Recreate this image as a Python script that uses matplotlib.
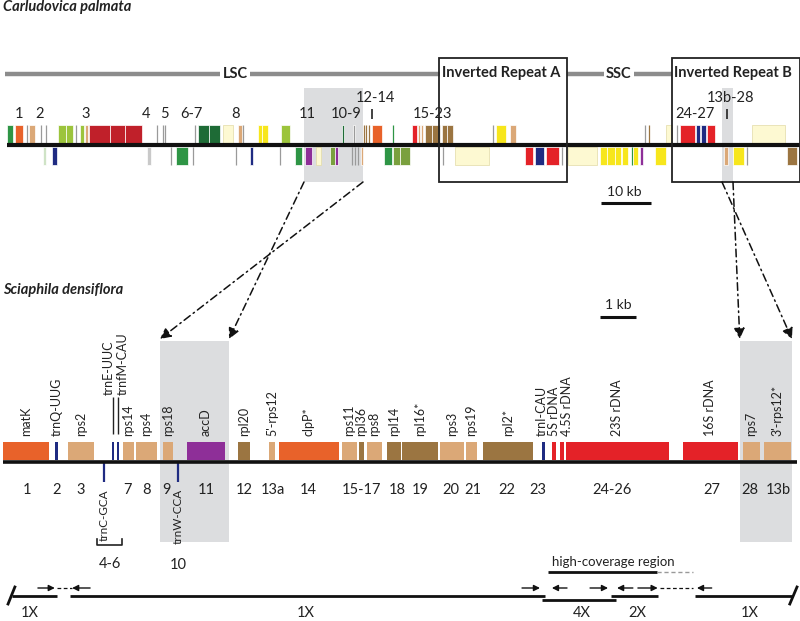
import matplotlib.pyplot as plt
from matplotlib.patches import Rectangle, ConnectionPatch

plt.rcParams['font.family'] = ['Lato', 'DejaVu Sans']

# colours used in the gene maps
G = '#2e9545'; DG = '#1e6b36'; LG = '#9cc43c'; OG = '#7aa03e'; PG = '#cfe3c6'
OR = '#e8622a'; TN = '#dba877'; BR = '#9b7541'; RD = '#c0202a'; RR = '#e42228'
NV = '#1f2b82'; YL = '#f7e61c'; PY = '#fdf9d2'; PU = '#8e2f98'; GR = '#9a9a9a'; LGR = '#c9c9c9'
SHADE = '#dcdddf'

# ---- Carludovica palmata plastome (positions in kb) ----
cp_length = 158.6
cp_above = [
    (0.0, 1.2, G), (1.6, 3.2, OR), (4.0, 4.0, GR), (4.4, 5.6, TN), (6.8, 6.8, GR), (7.8, 7.8, GR),
    (10.2, 11.8, LG), (11.8, 13.2, LG), (13.8, 13.8, GR), (14.6, 15.4, LG), (15.6, 16.2, TN),
    (16.4, 20.6, RD), (20.6, 23.6, RD), (23.6, 27.0, RD), (30.0, 30.0, GR), (31.2, 31.2, GR),
    (31.6, 31.6, GR), (37.6, 37.6, GR), (38.2, 40.4, DG), (40.4, 42.6, DG), (43.2, 45.2, PY),
    (46.2, 47.0, TN), (47.2, 47.2, GR), (50.2, 51.0, YL), (51.0, 52.2, YL), (54.8, 56.6, LG),
    (67.0, 67.4, DG), (69.2, 69.6, GR), (71.4, 71.4, BR), (71.8, 71.8, BR), (72.3, 72.3, BR),
    (73.0, 75.0, OR), (77.2, 77.2, G), (81.0, 82.0, RR), (82.2, 82.6, TN), (82.7, 83.2, TN),
    (83.6, 85.0, BR), (85.0, 86.6, BR), (87.0, 88.0, BR), (88.0, 89.2, BR), (97.2, 97.2, GR),
    (97.8, 99.8, YL), (100.6, 101.8, TN), (127.6, 127.6, GR), (128.4, 128.4, BR), (131.8, 133.0, PY),
    (134.0, 134.0, GR), (134.6, 137.6, RR), (137.8, 138.6, NV), (138.8, 139.8, NV), (140.0, 141.6, RR),
    (149.0, 155.6, PY)]
cp_below = [
    (7.2, 7.8, PG), (9.0, 10.0, NV), (28.0, 28.8, LGR), (32.8, 32.8, GR), (33.8, 36.2, G),
    (37.2, 37.2, GR), (45.8, 45.8, GR), (48.6, 49.2, NV), (54.6, 54.6, GR), (57.6, 59.0, G),
    (59.6, 61.0, PU), (61.8, 62.8, PY), (64.6, 65.6, OG), (65.6, 66.2, PU), (69.0, 69.0, GR),
    (69.6, 69.6, GR), (70.2, 70.2, GR), (70.8, 71.2, TN), (75.4, 77.0, G), (77.2, 78.6, OG),
    (78.6, 80.6, OG), (87.2, 87.2, GR), (89.6, 96.4, PY), (103.6, 105.2, RR), (105.6, 107.4, NV),
    (107.8, 110.4, RR), (111.0, 111.0, GR), (112.2, 118.0, PY), (118.6, 120.0, YL), (120.0, 121.6, YL),
    (121.6, 122.8, YL), (123.0, 124.2, YL), (125.0, 125.0, G), (125.2, 126.2, YL), (126.6, 127.2, PU),
    (129.6, 131.8, YL), (143.4, 144.2, TN), (145.2, 147.4, YL), (148.0, 148.0, GR), (156.0, 158.0, BR)]
cp_regions = [('LSC', -0.4, 86.6, 45.6), ('SSC', 112.0, 133.0, 122.4)]
cp_ir = [('Inverted Repeat A', 86.4, 112.0), ('Inverted Repeat B', 133.0, 158.6)]
cp_numbers = ['1', '2', '3', '4', '5', '6-7', '8', '11', '10-9', '15-23', '24-27']
cp_number_pos = [2.4, 6.6, 15.8, 27.8, 31.4, 36.8, 45.8, 60.0, 67.8, 85.0, 137.6]
cp_raised = ['12-14', '13b-28']
cp_raised_pos = [73.0, 144.0]
cp_zoom = [(59.4, 71.2), (143.0, 145.2)]

# ---- Sciaphila densiflora plastome (positions in kb) ----
sd_length = 22.06
sd_genes = ['matK', 'trnQ-UUG', 'rps2', 'trnE-UUC', 'trnfM-CAU', 'rps14', 'rps4', 'rps18', 'accD',
            'rpl20', "5'-rps12", 'clpP*', 'rps11', 'rpl36', 'rps8', 'rpl14', 'rpl16*', 'rps3', 'rps19',
            'rpl2*', 'trnI-CAU', '5S rDNA', '4.5S rDNA', '23S rDNA', '16S rDNA', 'rps7', "3'-rps12*"]
sd_start = [0.00, 1.44, 1.81, 3.03, 3.17, 3.33, 3.69, 4.44, 5.11, 6.53, 7.39, 7.67, 9.42, 9.89, 10.11,
            10.67, 11.08, 12.14, 12.86, 13.33, 14.97, 15.25, 15.47, 15.64, 18.89, 20.56, 21.14]
sd_end = [1.28, 1.53, 2.53, 3.08, 3.22, 3.64, 4.28, 4.72, 6.17, 6.86, 7.56, 9.33, 9.83, 10.03, 10.53,
          11.06, 12.08, 12.81, 13.17, 14.72, 15.06, 15.36, 15.58, 18.50, 20.42, 21.03, 21.89]
sd_colors = [OR, NV, TN, NV, NV, TN, TN, TN, PU, BR, TN, OR, TN, BR, TN, BR, BR, TN, TN, BR,
             NV, RR, RR, RR, RR, TN, TN]
sd_label_shift = {'trnE-UUC': -0.11, 'trnfM-CAU': 0.12, '4.5S rDNA': 0.14, 'trnI-CAU': -0.04}
sd_minus = ['trnC-GCA', 'trnW-CCA']
sd_minus_pos = [2.82, 4.86]
sd_numbers = ['1', '2', '3', '7', '8', '9', '11', '12', '13a', '14', '15-17', '18', '19', '20', '21',
              '22', '23', '24-26', '27', '28', '13b']
sd_number_pos = [0.67, 1.50, 2.17, 3.47, 4.00, 4.53, 5.64, 6.69, 7.50, 8.47, 9.97, 10.94, 11.58, 12.44,
                 13.06, 14.00, 14.86, 16.92, 19.69, 20.75, 21.53]
sd_zoom = [(4.36, 6.28), (20.47, 21.92)]

# coverage of the Sciaphila assembly (kb)
cov_solid = [(0.25, 1.50), (1.86, 15.06), (16.89, 18.19), (19.22, 21.94)]
cov_4x = (14.97, 17.03)
cov_dash = [(1.50, 1.92), (18.25, 19.17)]
cov_arrows = [(0.97, 1.44), (2.42, 1.92), (14.42, 14.92), (15.67, 15.25), (16.31, 16.81),
              (17.50, 17.06), (17.64, 18.19), (19.69, 19.28)]
cov_labels = ['1X', '1X', '4X', '2X', '1X']
cov_label_pos = [0.75, 8.42, 16.08, 17.61, 20.75]
high_cov = (15.14, 18.17)
high_cov_dash = (18.17, 19.17)

fig = plt.figure(figsize=(8, 6.21), dpi=100)
base = fig.add_axes([0, 0, 1, 1])
base.set_xlim(0, 800)
base.set_ylim(621, 0)
base.axis('off')
top = fig.add_axes([7 / 800, 0, 793 / 800, 1])
top.set_xlim(0, cp_length)
top.set_ylim(621, 0)
top.axis('off')
bot = fig.add_axes([3 / 800, 0, 794 / 800, 1])
bot.set_xlim(0, sd_length)
bot.set_ylim(621, 0)
bot.axis('off')
for a in (top, bot):
    a.patch.set_alpha(0)

title_kw = dict(fontsize=10.5, fontweight='bold', fontstyle='italic', color='#222222')
base.text(3, 7, 'Carludovica palmata', ha='left', va='center', **title_kw)
base.text(3, 290, 'Sciaphila densiflora', ha='left', va='center', **title_kw)

# ---- top map ----
for s, e in cp_zoom:
    top.add_patch(Rectangle((s, 88), e - s, 94, fc=SHADE, ec='none', zorder=0))


def draw_blocks(ax, blocks, y0, h):
    for s, e, c in blocks:
        if e - s < 0.3:
            ax.vlines(s, y0, y0 + h, color=c, lw=0.9, zorder=2)
        else:
            ec = '#e2dba6' if c == PY else 'white'
            ax.add_patch(Rectangle((s, y0), e - s, h, fc=c, ec=ec, lw=0.5, zorder=2))


draw_blocks(top, cp_above, 125, 18)
draw_blocks(top, cp_below, 147, 18)
top.plot([0, cp_length], [145, 145], color='#111111', lw=3, solid_capstyle='butt', zorder=3, clip_on=False)

for name, s, e, xl in cp_regions:
    top.plot([s, e], [74, 74], color='#8c8c8c', lw=3.2, solid_capstyle='butt', zorder=1, clip_on=False)
    top.text(xl, 74, name, ha='center', va='center', fontsize=10.5, fontweight='bold', color='#222222',
             bbox=dict(fc='white', ec='none', pad=1.5), zorder=2)
for name, s, e in cp_ir:
    top.add_patch(Rectangle((s, 58), e - s, 124, fc='none', ec='#222222', lw=1.3, zorder=4, clip_on=False))
    top.text(s + 0.5, 73, name, ha='left', va='center', fontsize=10.5, fontweight='bold', color='#222222',
             zorder=5)

for lab, x in zip(cp_numbers, cp_number_pos):
    top.text(x, 114, lab, ha='center', va='center', fontsize=10.5, color='#222222')
for lab, x in zip(cp_raised, cp_raised_pos):
    top.text(x + 0.6, 98, lab, ha='center', va='center', fontsize=10.5, color='#222222')
    top.vlines(x, 109, 119, color='#222222', lw=1.2)

# 10 kb scale bar
top.plot([118.8, 128.8], [203, 203], color='#111111', lw=2.2, solid_capstyle='butt')
top.text(123.4, 192, '10 kb', ha='center', va='center', fontsize=10, color='#222222')

# ---- bottom map ----
for s, e in sd_zoom:
    bot.add_patch(Rectangle((s, 341), e - s, 201, fc=SHADE, ec='none', zorder=0))

for name, s, e, c in zip(sd_genes, sd_start, sd_end, sd_colors):
    bot.add_patch(Rectangle((s, 442), e - s, 18, fc=c, ec='none', zorder=2))
    xc = (s + e) / 2
    if name in ('trnE-UUC', 'trnfM-CAU'):
        bot.vlines(xc, 397, 434, color='#222222', lw=1)
        bot.text(xc + sd_label_shift[name], 395, name, rotation=90, ha='center', va='bottom',
                 fontsize=9, color='#222222')
    else:
        bot.text(xc + sd_label_shift.get(name, 0), 436, name, rotation=90, ha='center', va='bottom',
                 fontsize=9, color='#222222')
bot.plot([0, sd_length], [462, 462], color='#111111', lw=2.6, solid_capstyle='butt', zorder=3)

for name, x in zip(sd_minus, sd_minus_pos):
    bot.vlines(x, 463, 482, color=NV, lw=1.6)
    bot.text(x, 489, name, rotation=90, ha='center', va='top', fontsize=8.5, color='#222222')

for lab, x in zip(sd_numbers, sd_number_pos):
    bot.text(x, 490, lab, ha='center', va='center', fontsize=10.5, color='#222222')
bot.plot([2.61, 2.61, 3.31, 3.31], [539, 545, 545, 539], color='#222222', lw=1.2)
bot.text(2.96, 564, '4-6', ha='center', va='center', fontsize=10.5, color='#222222')
bot.text(4.86, 565, '10', ha='center', va='center', fontsize=10.5, color='#222222')

# 1 kb scale bar
bot.plot([16.6, 17.6], [317, 317], color='#111111', lw=2.2, solid_capstyle='butt')
bot.text(17.1, 305, '1 kb', ha='center', va='center', fontsize=10, color='#222222')

# zoom connectors
conn_kw = dict(coordsA='data', coordsB='data', arrowstyle='-|>', linestyle=(0, (5, 2.5, 1, 2.5)),
               lw=1.1, color='#111111', mutation_scale=16, zorder=6)
for (ts, te), (bs, be) in zip(cp_zoom, sd_zoom):
    fig.add_artist(ConnectionPatch((ts, 182), (be, 339), axesA=top, axesB=bot, **conn_kw))
    fig.add_artist(ConnectionPatch((te, 182), (bs, 339), axesA=top, axesB=bot, **conn_kw))

# ---- coverage ----
for s, e in cov_solid:
    bot.plot([s, e], [596, 596], color='#111111', lw=2, solid_capstyle='butt')
bot.plot(cov_4x, [600, 600], color='#111111', lw=2, solid_capstyle='butt')
for s, e in cov_dash:
    bot.plot([s, e], [588, 588], color='#111111', lw=0.9, linestyle=(0, (3, 2)))
for s, e in cov_arrows:
    bot.annotate('', xy=(e, 588), xytext=(s, 588),
                 arrowprops=dict(arrowstyle='-|>', color='#111111', lw=1, mutation_scale=9,
                                 shrinkA=0, shrinkB=0))
bot.plot([0.14, 0.33], [604, 587], color='#111111', lw=2)
bot.plot([21.86, 22.06], [604, 587], color='#111111', lw=2, clip_on=False)
bot.plot(high_cov, [572, 572], color='#111111', lw=2, solid_capstyle='butt')
bot.plot(high_cov_dash, [572, 572], color='#999999', lw=1, linestyle=(0, (3, 2)))
bot.text(sum(high_cov) / 2 + 0.3, 562, 'high-coverage region', ha='center', va='center',
         fontsize=9.5, color='#222222')
for lab, x in zip(cov_labels, cov_label_pos):
    bot.text(x, 613, lab, ha='center', va='center', fontsize=10.5, color='#222222')

fig.savefig('out.png', dpi=100)
